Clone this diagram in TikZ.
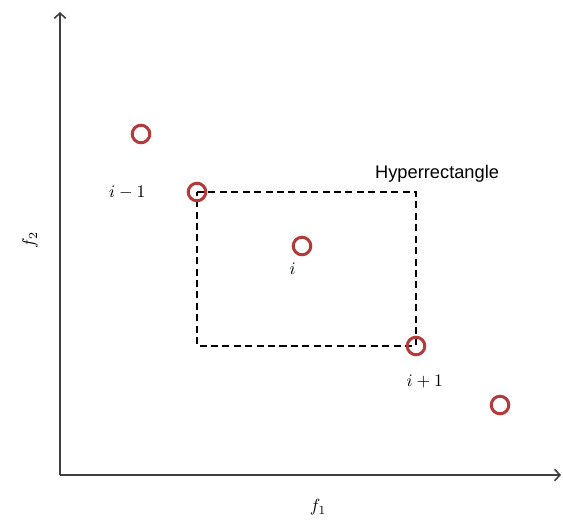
\documentclass[tikz,border=0pt]{standalone}
\usepackage{amsmath,amssymb}
\usepackage{fontspec}
\newfontfamily\labelfont{Liberation Sans}
\usetikzlibrary{arrows.meta, positioning}
\definecolor{ptred}{RGB}{178,58,58}
\tikzset{
	pt/.style={circle, draw=ptred, line width=1.7pt, minimum size=10pt, inner sep=0pt},
	axis/.style={line width=0.9pt, draw=black!75, -{Straight Barb[length=3pt,width=6.5pt]}},
	box/.style={dashed, line width=0.7pt, dash pattern=on 4pt off 2.5pt}
}

\begin{document}
\begin{tikzpicture}[x=0.02cm, y=-0.02cm]
			\useasboundingbox (0,0) rectangle (563,520);
			\coordinate (O) at (60,475);
			\coordinate (Y) at (60,12);
			\coordinate (X) at (561,475);
			\draw[axis] (O) -- (Y);
			\draw[axis] (O) -- (X);
			\node at (30,240) [rotate=90]{$f_2$};
			\node at (318,507) {$f_1$};
			% points of the front
			\coordinate (A) at (197,192);
			\coordinate (B) at (416,346);
			\draw[box] (A) -- (A -| B) -- (B) -- (B -| A) -- cycle;
			\node[pt] (p1) at (141,134) {};
			\node[pt] (p2) at (A) {};
			\node[pt] (p3) at (302,246) {};
			\node[pt] (p4) at (B) {};
			\node[pt] (p5) at (500,405) {};
			\node[left=20pt of p2] {$i-1$};
			\node[below left=2pt and -4pt of p3] {$i$};
			\node[below=7pt of p4, xshift=5pt] {$i+1$};
			\node[above=2pt of A -| B, xshift=12pt] {\labelfont\fontsize{10.4}{12}\selectfont Hyperrectangle};
		\end{tikzpicture}
\end{document}
